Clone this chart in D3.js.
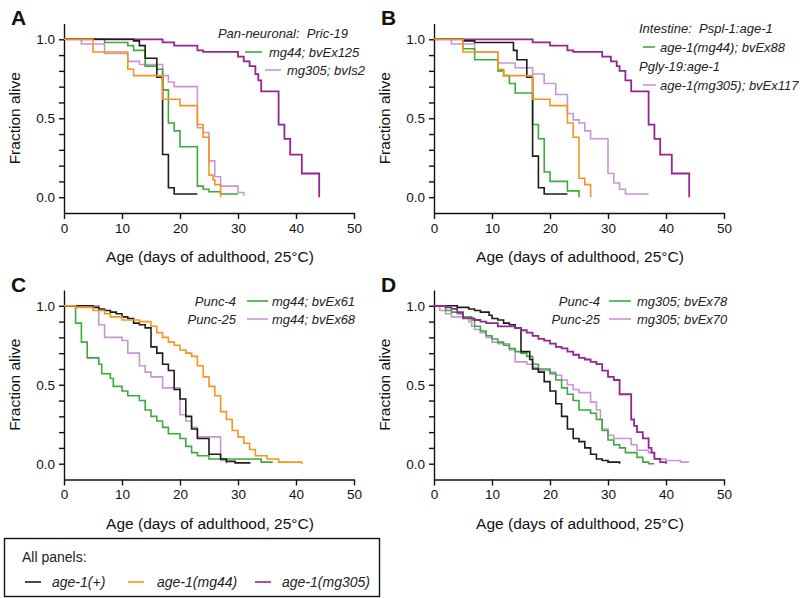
<!DOCTYPE html>
<html><head><meta charset="utf-8">
<script src="https://cdn.jsdelivr.net/npm/d3@7"></script>
<style>body{margin:0;background:#fff}svg{display:block;font-family:"Liberation Sans",Arial,sans-serif}text{white-space:pre}</style>
</head><body><svg id="c" width="800" height="598"></svg>
<script>
// ---- data: [day, fraction alive] (Kaplan–Meier steps) ----
const xTicks = [0,10,20,30,40,50];
const yTickLabels = ["0.0","0.5","1.0"];
// Panel A
const aWild  = [[0,1],[12,0.99],[13,0.96],[14,0.88],[16,0.76],[17,0.27],[18,0.06],[19,0.02],[23,0.02]];
const aMg44  = [[0,1],[5,0.92],[11,0.81],[12,0.77],[17,0.62],[20,0.58],[23,0.46],[24,0.38],[25,0.14],[25.7,0.11],[26,0.08],[27,0]];
const aMg305 = [[0,1],[17,0.98],[19,0.96],[23,0.93],[24,0.92],[30,0.89],[31,0.86],[32,0.83],[33,0.78],[33.5,0.74],[34,0.67],[37,0.46],[38,0.37],[39,0.27],[41,0.15],[44,0]];
const aGreen = [[0,1],[7,0.98],[11,0.96],[12,0.93],[14,0.83],[16,0.81],[17,0.68],[18,0.47],[19,0.42],[20,0.32],[23,0.07],[24,0.05],[25,0.035],[27,0.02],[30,0.02]];
const aLav   = [[0,1],[3,0.97],[7,0.91],[11,0.86],[13,0.84],[17,0.77],[18,0.73],[19,0.70],[23,0.44],[24,0.41],[25,0.23],[26,0.13],[27,0.07],[30,0.03],[31,0.01]];
// Panel B
const bWild  = [[0,1],[5,0.99],[7,0.98],[13.7,0.93],[14.3,0.87],[16,0.76],[17,0.26],[18,0.06],[19,0.02],[23,0.02]];
const bMg44  = [[0,1],[5,0.92],[11,0.81],[12,0.77],[17,0.62],[20,0.58],[23,0.47],[24,0.38],[25,0.12],[26,0.08],[27,0]];
const bMg305 = [[0,1],[17,0.98],[20,0.96],[23,0.93],[24,0.92],[29,0.89],[30.5,0.86],[31.5,0.83],[32,0.80],[33,0.74],[34,0.67],[37,0.46],[38,0.37],[39,0.27],[41,0.15],[44,0]];
const bGreen = [[0,1],[5,0.94],[7,0.87],[11,0.80],[12,0.77],[13,0.72],[14,0.66],[17,0.46],[18,0.37],[19,0.16],[20,0.10],[23,0.04],[25,0]];
const bLav   = [[0,1],[3,0.97],[7,0.92],[11,0.85],[14,0.82],[17,0.78],[19,0.72],[21,0.65],[23,0.53],[24,0.49],[25,0.47],[26,0.42],[27,0.37],[30,0.15],[31,0.09],[32,0.05],[33,0.02],[37,0.02]];
// Panel C
const cWild  = [[0,1],[5,0.99],[6,0.98],[7,0.97],[8,0.96],[9,0.95],[10,0.93],[11,0.92],[12,0.89],[13,0.88],[14,0.86],[15,0.74],[16,0.70],[17,0.63],[18,0.59],[19,0.47],[20,0.41],[21,0.30],[22,0.22],[23,0.16],[25,0.06],[27,0.03],[28,0.015],[29.5,0.005],[32,0]];
const cMg44  = [[0,1],[2,0.99],[5,0.97],[7,0.95],[8,0.93],[10,0.91],[13,0.90],[15,0.87],[16,0.83],[17,0.80],[18,0.77],[19,0.75],[20,0.72],[21,0.70],[22,0.68],[23,0.62],[24,0.55],[25,0.49],[26,0.43],[27,0.33],[28,0.28],[29,0.21],[30,0.17],[31,0.13],[32,0.09],[33,0.05],[35,0.03],[37,0.01],[41,0]];
const cGreen = [[0,1],[2,0.89],[3,0.77],[4,0.67],[6,0.63],[6.5,0.57],[8,0.54],[8.5,0.49],[10,0.46],[11,0.43],[13,0.40],[14,0.34],[15,0.30],[16,0.27],[17,0.23],[18,0.19],[20,0.16],[21,0.11],[22,0.07],[23,0.05],[25,0.03],[34,0.01],[36,0.01]];
const cLav   = [[0,1],[6,0.88],[7,0.80],[10,0.78],[11,0.70],[13,0.62],[14,0.58],[15,0.55],[17,0.48],[20,0.31],[21,0.27],[22,0.23],[23,0.17],[27,0.02],[28,0]];
// Panel D
const dWild  = [[0,1],[4,0.99],[6,0.98],[7,0.97],[8,0.96],[9.5,0.94],[10,0.92],[11,0.91],[12,0.89],[13,0.88],[14,0.86],[15,0.71],[16.5,0.66],[17,0.60],[18,0.58],[19,0.52],[20,0.46],[21,0.38],[22,0.30],[23,0.22],[24,0.16],[25,0.14],[26,0.10],[27,0.06],[28,0.03],[29,0.02],[30,0.01],[32,0]];
const dMg305 = [[0,1],[2,0.99],[3,0.98],[4,0.96],[5,0.92],[7,0.91],[8,0.90],[9,0.89],[11,0.87],[14,0.86],[15,0.845],[16,0.83],[17,0.81],[18,0.79],[19,0.78],[20,0.76],[21,0.74],[22,0.73],[23,0.71],[24,0.69],[25,0.67],[26,0.66],[27,0.645],[28,0.63],[29,0.59],[30,0.55],[31,0.53],[32,0.44],[34,0.28],[34.5,0.24],[35,0.20],[36,0.16],[37,0.10],[37.5,0.07],[38,0.03],[39,0.01],[40,0]];
const dGreen = [[0,1],[2,0.97],[3,0.96],[4,0.95],[5,0.93],[6.5,0.91],[7,0.87],[8,0.84],[9,0.81],[10,0.79],[11,0.77],[12,0.75],[13,0.73],[14,0.71],[15,0.70],[16,0.68],[17,0.63],[18,0.60],[20,0.57],[21,0.53],[22,0.48],[23,0.44],[24,0.40],[25,0.34],[27,0.32],[28,0.28],[29,0.21],[30,0.15],[31,0.12],[32,0.10],[33,0.07],[35,0.04],[36,0.01],[37,0],[38,0]];
const dLav   = [[0,1],[1,0.97],[2,0.95],[3,0.93],[6,0.90],[6.5,0.87],[7,0.85],[8,0.83],[9,0.80],[10,0.77],[11,0.76],[13,0.72],[14,0.645],[16,0.63],[17,0.61],[18,0.59],[20,0.58],[21,0.56],[22,0.53],[23,0.50],[24,0.47],[25,0.45],[27,0.39],[28,0.34],[28.7,0.28],[29,0.22],[30,0.18],[31,0.16],[34,0.12],[35,0.085],[37,0.07],[38,0.03],[40,0.02],[42.5,0.01],[44,0.01]];

const colors = {wild:"#1e1b1c", mg44:"#f7941d", mg305:"#92278f", green:"#3bab3b", lav:"#c996d3"};

const panels = [
  {letter:"A", x0:64, top:0, series:[["lav",aLav],["green",aGreen],["mg305",aMg305],["wild",aWild],["mg44",aMg44]]},
  {letter:"B", x0:434, top:0, series:[["lav",bLav],["green",bGreen],["mg305",bMg305],["wild",bWild],["mg44",bMg44]]},
  {letter:"C", x0:64, top:266.5, series:[["lav",cLav],["green",cGreen],["wild",cWild],["mg44",cMg44]]},
  {letter:"D", x0:434, top:266.5, series:[["lav",dLav],["green",dGreen],["wild",dWild],["mg305",dMg305]]}
];

const svg = d3.select("#c");

panels.forEach(p => {
  const x = d3.scaleLinear().domain([0,50]).range([p.x0, p.x0+290]);
  const y = d3.scaleLinear().domain([-0.1,1.1]).range([p.top+213, p.top+23.5]);
  const g = svg.append("g");

  const ya = d3.axisLeft(y).tickValues(d3.range(0,11).map(i=>i/10)).tickSize(5).tickSizeOuter(0)
     .tickFormat(d => { const s = d.toFixed(1); return yTickLabels.includes(s) ? s : ""; });
  const yg = g.append("g").attr("transform",`translate(${p.x0},0)`).call(ya);
  const xa = d3.axisBottom(x).tickValues(xTicks).tickSize(6).tickSizeOuter(0).tickFormat(d3.format("d"));
  const xg = g.append("g").attr("transform",`translate(0,${y(-0.1)})`).call(xa);
  [yg,xg].forEach(a=>{
    a.selectAll("path,line").attr("stroke","#111").attr("stroke-width",1.4);
    a.selectAll("text").attr("font-size",13.5).attr("fill","#111").attr("font-family","Liberation Sans, Arial, sans-serif");
  });
  yg.selectAll("text").attr("x",-9);
  xg.selectAll("text").attr("y",10);

  g.append("text").attr("transform",`translate(${p.x0-49},${y(0.5)}) rotate(-90)`)
    .attr("text-anchor","middle").attr("dy","0.35em").attr("font-size",15.5).attr("fill","#111").text("Fraction alive");
  g.append("text").attr("x",p.x0+146).attr("y",p.top+262).attr("text-anchor","middle")
    .attr("font-size",15.5).attr("fill","#111").text("Age (days of adulthood, 25\u00B0C)");
  g.append("text").attr("x",p.x0-53).attr("y",p.top+25).attr("font-size",21).attr("font-weight","bold").attr("fill","#111").text(p.letter);

  const line = d3.line().x(d=>x(d[0])).y(d=>y(d[1])).curve(d3.curveStepAfter);
  p.series.forEach(([k,data]) => {
    g.append("path").datum(data).attr("d",line).attr("fill","none")
      .attr("stroke",colors[k]).attr("stroke-width", k==="mg305"?1.8:1.6);
  });
});

function ltext(x,y,t,anchor){ return svg.append("text").attr("x",x).attr("y",y).attr("font-size",13).attr("font-style","italic")
  .attr("fill","#222").attr("text-anchor",anchor||"start").text(t); }
function lline(x1,x2,y,k){ svg.append("line").attr("x1",x1).attr("x2",x2).attr("y1",y).attr("y2",y).attr("stroke",colors[k]).attr("stroke-width",1.6); }
// A
ltext(348,38,"Pan-neuronal:  Pric-19","end");
lline(245,262,52,"green"); ltext(269,57,"mg44; bvEx125");
lline(265,281,70,"lav"); ltext(287,75,"mg305; bvIs2");
// B
ltext(639,33,"Intestine:  Pspl-1:age-1");
lline(643,655,47,"green"); ltext(660,52,"age-1(mg44); bvEx88");
ltext(639,71,"Pgly-19:age-1");
lline(643,656,85,"lav"); ltext(660,90,"age-1(mg305); bvEx117");
// C
ltext(236,306,"Punc-4","end"); lline(247,268,301,"green"); ltext(272,306,"mg44; bvEx61");
ltext(236,324,"Punc-25","end"); lline(247,268,319,"lav"); ltext(272,324,"mg44; bvEx68");
// D
ltext(600,306,"Punc-4","end"); lline(609,631,301,"green"); ltext(637,306,"mg305; bvEx78");
ltext(600,324,"Punc-25","end"); lline(609,631,319,"lav"); ltext(637,324,"mg305; bvEx70");

// bottom legend
svg.append("rect").attr("x",4.5).attr("y",538.5).attr("width",375).attr("height",58).attr("fill","none").attr("stroke","#111").attr("stroke-width",1.4);
svg.append("text").attr("x",22).attr("y",562).attr("font-size",14).attr("fill","#222").text("All panels:");
const legItems = [["wild","age-1(+)",25,52],["mg44","age-1(mg44)",128,157],["mg305","age-1(mg305)",255,282]];
legItems.forEach(([k,t,lx,tx])=>{ lline(lx,lx+16,582,k); ltext(tx,587,t).attr("font-size",14); });
</script></body></html>
